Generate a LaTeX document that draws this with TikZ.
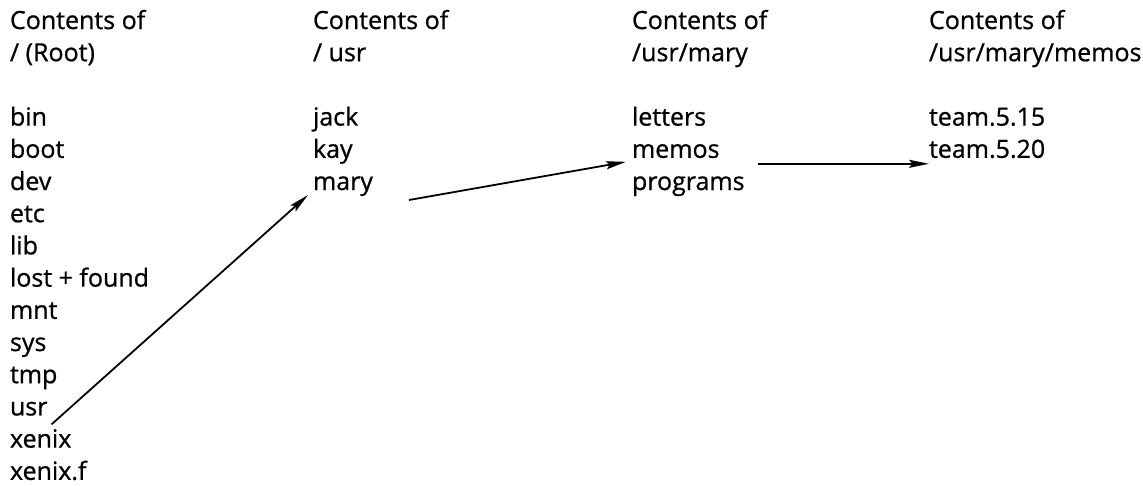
\documentclass[tikz,border=0pt]{standalone}
\usepackage{fontspec}
\setmainfont{Open Sans}[FakeBold=0.8]
\usetikzlibrary{arrows.meta}
\begin{document}
\begin{tikzpicture}[x=1pt,y=-1pt,
  lbl/.style={anchor=base west,inner sep=0pt,outer sep=0pt,font=\fontsize{25}{29}\selectfont},
  conn/.style={line width=1.8pt,-{Stealth[length=20pt,width=8pt,inset=3.5pt]}}]
\useasboundingbox (0,0) rectangle (1143,485);
% column 1
\node[lbl] (h1a) at (10,29) {Contents of};
\node[lbl] (h1b) at (10,61.2) {/ (Root)};
\node[lbl] (bin) at (10,125.6) {bin};
\node[lbl] (boot) at (10,157.8) {boot};
\node[lbl] (dev) at (10,190) {dev};
\node[lbl] (etc) at (10,222.2) {etc};
\node[lbl] (lib) at (10,254.4) {lib};
\node[lbl] (lost) at (10,286.6) {lost + found};
\node[lbl] (mnt) at (10,318.8) {mnt};
\node[lbl] (sys) at (10,351) {sys};
\node[lbl] (tmp) at (10,383.2) {tmp};
\node[lbl] (usr) at (10,415.4) {usr};
\node[lbl] (xenix) at (10,447.6) {xenix};
\node[lbl] (xenixf) at (10,479.8) {xenix.f};
% column 2
\node[lbl] (h2a) at (313,29) {Contents of};
\node[lbl] (h2b) at (313,61.2) {/ usr};
\node[lbl] (jack) at (313,125.6) {jack};
\node[lbl] (kay) at (313,157.8) {kay};
\node[lbl] (mary) at (313,190) {mary};
% column 3
\node[lbl] (h3a) at (632,29) {Contents of};
\node[lbl] (h3b) at (632,61.2) {/usr/mary};
\node[lbl] (letters) at (632,125.6) {letters};
\node[lbl] (memos) at (632,157.8) {memos};
\node[lbl] (programs) at (632,190) {programs};
% column 4
\node[lbl] (h4a) at (929,29) {Contents of};
\node[lbl] (h4b) at (929,61.2) {/usr/mary/memos};
\node[lbl] (t515) at (929,125.6) {team.5.15};
\node[lbl] (t520) at (929,157.8) {team.5.20};
% connectors
\draw[conn] ([xshift=4pt,yshift=-9pt]usr.base east) -- ([xshift=-5pt,yshift=-5pt]mary.base west);
\draw[conn] ([xshift=36pt,yshift=-10pt]mary.base east) -- ([xshift=-6pt,yshift=-4pt]memos.base west);
\draw[conn] ([xshift=38pt,yshift=-6pt]memos.base east) -- ([xshift=0pt,yshift=-6pt]t520.base west);
\end{tikzpicture}
\end{document}
